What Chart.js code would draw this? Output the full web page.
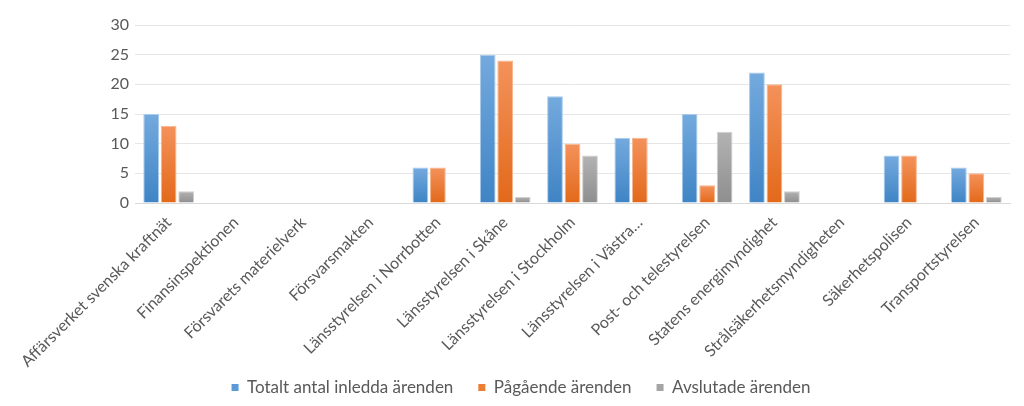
<!DOCTYPE html>
<html>
<head>
<meta charset="utf-8">
<script src="https://cdn.jsdelivr.net/npm/chart.js@4/dist/chart.umd.min.js"></script>
<style>
  html, body { margin: 0; padding: 0; background: #fff; }
  #wrap { width: 1024px; height: 406px; }
</style>
</head>
<body>
<div id="wrap"><canvas id="arendenChart"></canvas></div>
<script>
var categories = [
  'Affärsverket svenska kraftnät',
  'Finansinspektionen',
  'Försvarets materielverk',
  'Försvarsmakten',
  'Länsstyrelsen i Norrbotten',
  'Länsstyrelsen i Skåne',
  'Länsstyrelsen i Stockholm',
  'Länsstyrelsen i Västra…',
  'Post- och telestyrelsen',
  'Statens energimyndighet',
  'Strålsäkerhetsmyndigheten',
  'Säkerhetspolisen',
  'Transportstyrelsen'
];
var totalt = [15, 0, 0, 0, 6, 25, 18, 11, 15, 22, 0, 8, 6];
var pagaende = [13, 0, 0, 0, 6, 24, 10, 11, 3, 20, 0, 8, 5];
var avslutade = [2, 0, 0, 0, 0, 1, 8, 0, 12, 2, 0, 0, 1];
var yTicks = [0, 5, 10, 15, 20, 25, 30];

var textColor = '#595959';
var fontFamily = 'Lato, "Open Sans", sans-serif';

// vertical gradient per bar, top light -> bottom darker
function barGradient(top, bottom) {
  return function (ctx) {
    var chart = ctx.chart;
    var y = chart.scales.y;
    if (!y || ctx.raw === undefined) return bottom;
    var yTop = y.getPixelForValue(ctx.raw);
    var yBase = y.getPixelForValue(0);
    if (!isFinite(yTop) || !isFinite(yBase) || yTop === yBase) return bottom;
    var g = chart.ctx.createLinearGradient(0, yTop, 0, yBase);
    g.addColorStop(0, top);
    g.addColorStop(1, bottom);
    return g;
  };
}

var chart = new Chart(document.getElementById('arendenChart'), {
  type: 'bar',
  data: {
    labels: categories,
    datasets: [{
      label: 'Totalt antal inledda ärenden',
      data: totalt,
      backgroundColor: barGradient('#74aade', '#3f84c5'),
      borderColor: '#a9cbec',
      borderWidth: 1,
      legendColor: '#5b9bd5'
    }, {
      label: 'Pågående ärenden',
      data: pagaende,
      backgroundColor: barGradient('#f4925b', '#e2691a'),
      borderColor: '#f7b58e',
      borderWidth: 1,
      legendColor: '#ed7d31'
    }, {
      label: 'Avslutade ärenden',
      data: avslutade,
      backgroundColor: barGradient('#b3b3b3', '#8e8e8e'),
      borderColor: '#d0d0d0',
      borderWidth: 1,
      legendColor: '#a5a5a5'
    }]
  },
  options: {
    responsive: true,
    maintainAspectRatio: false,
    animation: false,
    layout: { padding: { top: 25, right: 14, left: 32, bottom: 0 } },
    datasets: {
      bar: { categoryPercentage: 0.78, barPercentage: 0.9 }
    },
    scales: {
      x: {
        grid: { display: false },
        border: { display: true, color: '#d9d9d9', width: 1 },
        ticks: {
          color: textColor,
          font: { family: fontFamily, size: 16 },
          maxRotation: 45,
          minRotation: 45,
          autoSkip: false,
          padding: 2
        },
        afterFit: function (scale) {
          scale.height = 151;
          // long rotated labels run into the legend band, don't clip them
          scale._computeLabelArea = function () { return undefined; };
        }
      },
      y: {
        min: 0,
        max: 30,
        afterBuildTicks: function (scale) {
          scale.ticks = yTicks.map(function (v) { return { value: v }; });
        },
        grid: { color: '#e6e6e6', lineWidth: 1, drawTicks: false },
        border: { display: false },
        ticks: {
          color: textColor,
          font: { family: fontFamily, size: 16 },
          padding: 6
        },
        afterFit: function (scale) { scale.width = 103; }
      }
    },
    plugins: {
      legend: {
        position: 'bottom',
        labels: {
          color: textColor,
          font: { family: fontFamily, size: 17 },
          boxWidth: 7,
          boxHeight: 7,
          padding: 25,
          generateLabels: function (c) {
            return c.data.datasets.map(function (ds, i) {
              return {
                text: ds.label,
                fillStyle: ds.legendColor,
                strokeStyle: ds.legendColor,
                lineWidth: 0,
                fontColor: textColor,
                hidden: !c.isDatasetVisible(i),
                datasetIndex: i
              };
            });
          }
        }
      },
      tooltip: { enabled: false }
    }
  }
});
</script>
</body>
</html>
